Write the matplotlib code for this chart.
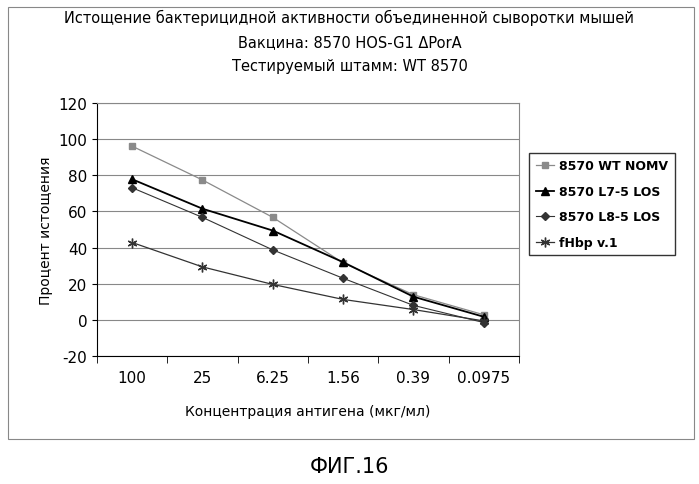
import matplotlib
matplotlib.use("Agg")
import matplotlib.pyplot as plt
from matplotlib.patches import Rectangle
plt.rcParams["axes.unicode_minus"] = False

categories = ["100", "25", "6.25", "1.56", "0.39", "0.0975"]
wt_nomv = [96.1, 77.4, 56.7, 31.5, 13.9, 2.8]
l7_los = [77.8, 61.5, 49.4, 31.9, 12.8, 1.7]
l8_los = [73.1, 56.7, 38.7, 23.0, 8.0, -1.5]
fhbp = [42.8, 29.3, 19.6, 11.3, 5.7, -0.6]

W, H = 699, 485
fig = plt.figure(figsize=(W/100, H/100), dpi=100)
fig.patches.append(Rectangle((8/W, 1-440/H), 686/W, 432/H, transform=fig.transFigure,
                             fill=False, edgecolor="#888888", lw=0.8))
ax = fig.add_axes([97/W, 1-357/H, (519-97)/W, (357-104)/H])
x = range(len(categories))
ax.plot(x, wt_nomv, color="#8a8a8a", marker="s", ms=5, lw=0.9, label="8570 WT NOMV")
ax.plot(x, l7_los, color="black", marker="^", ms=6, lw=1.3, label="8570 L7-5 LOS")
ax.plot(x, l8_los, color="#333333", marker="D", ms=4, lw=0.8, label="8570 L8-5 LOS")
ax.plot(x, fhbp, color="#333333", marker=(6, 2, 0), ms=7, lw=0.9, label="fHbp v.1")
ax.set_xlim(-0.5, len(categories)-0.5)
ax.set_ylim(-20, 120)
ax.set_yticks(range(-20, 121, 20))
ax.set_xticks(list(x))
ax.set_xticklabels(categories, fontsize=11)
ax.tick_params(axis="x", length=0, pad=10)
ax.set_xticks([i - 0.5 for i in range(len(categories)+1)], minor=True)
ax.tick_params(axis="x", which="minor", length=5)
ax.tick_params(axis="y", labelsize=11)
ax.grid(axis="y", color="#888888", lw=0.8)
ax.set_axisbelow(True)
for s in ["top", "right"]:
    ax.spines[s].set_color("#888888")
ax.set_xlabel("Концентрация антигена (мкг/мл)", fontsize=10, labelpad=14)
ax.set_ylabel("Процент истощения", fontsize=10)
fig.text(0.5, 1-18/H, "Истощение бактерицидной активности объединенной сыворотки мышей", ha="center", va="center", fontsize=10.5)
fig.text(0.5, 1-43/H, "Вакцина: 8570 HOS-G1 ΔPorA", ha="center", va="center", fontsize=10.5)
fig.text(0.5, 1-67/H, "Тестируемый штамм: WT 8570", ha="center", va="center", fontsize=10.5)
leg = ax.legend(loc="center left", bbox_to_anchor=(1.01, 0.6), frameon=True, fancybox=False,
                edgecolor="black", prop={"weight": "bold", "size": 9}, labelspacing=1.0,
                handlelength=1.5, handletextpad=0.4, borderpad=0.5)
fig.text(0.5, 1-467/H, "ФИГ.16", ha="center", va="center", fontsize=15)
fig.savefig("out.png", dpi=100)
